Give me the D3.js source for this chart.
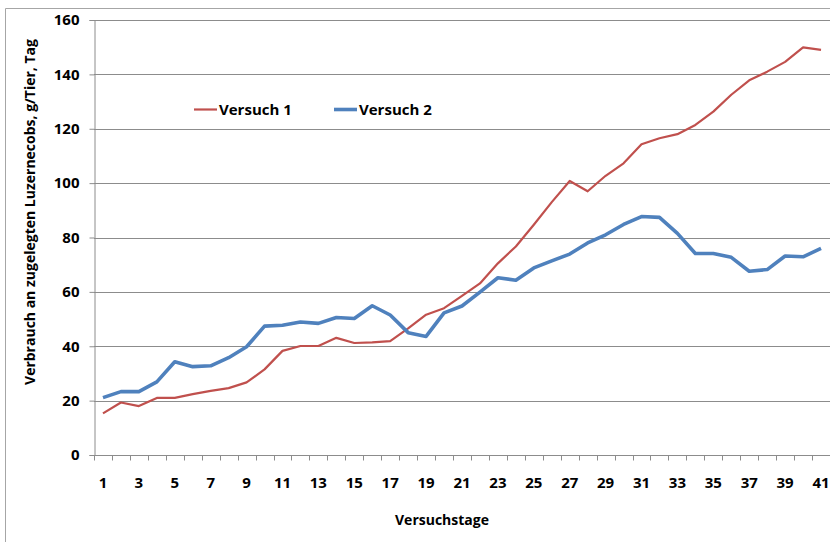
<!DOCTYPE html>
<html>
<head>
<meta charset="utf-8">
<script src="https://cdn.jsdelivr.net/npm/d3@7"></script>
<style>
  body { margin: 0; background: #fff; }
  text { font-family: "Open Sans", sans-serif; font-weight: bold; fill: #000; }
</style>
</head>
<body>
<div id="chart"></div>
<script>
// Versuchstage 1..41
var days = d3.range(1, 42);
var versuch1 = [15.3, 19.3, 18, 21, 21, 22.4, 23.6, 24.6, 26.7, 31.5,
                38.3, 40.1, 40.1, 43.1, 41.2, 41.4, 41.9, 46.6, 51.6, 54,
                58.5, 63.1, 70.5, 76.7, 84.7, 93, 100.8, 97, 102.7, 107.3,
                114.3, 116.5, 118, 121.4, 126.3, 132.5, 137.8, 141, 144.6, 149.9, 149];
var versuch2 = [21.1, 23.3, 23.3, 26.9, 34.3, 32.5, 32.8, 35.8, 39.8, 47.4,
                47.7, 48.9, 48.4, 50.6, 50.2, 54.9, 51.5, 45, 43.6, 52.3,
                54.8, 59.9, 65.2, 64.3, 68.8, 71.4, 73.9, 78, 81, 84.8,
                87.7, 87.4, 81.5, 74.1, 74.1, 72.7, 67.6, 68.2, 73.2, 72.9, 76];
var yTicks = [0, 20, 40, 60, 80, 100, 120, 140, 160];
var seriesNames = ['Versuch 1', 'Versuch 2'];
var seriesColors = ['#C0504D', '#4F81BD'];
var seriesWidths = [2.2, 3.6];

var W = 830, H = 542;
var margin = {top: 20, right: 0, bottom: 87, left: 94};
var width = W - margin.left - margin.right,
    height = H - margin.top - margin.bottom;

var svg = d3.select('#chart').append('svg')
    .attr('width', W)
    .attr('height', H);

// outer frame
svg.append('path')
    .attr('d', 'M5.5,' + H + ' V8.5 H' + W)
    .attr('fill', 'none')
    .attr('stroke', '#a6a6a6')
    .attr('stroke-width', 1);

var g = svg.append('g')
    .attr('transform', 'translate(' + margin.left + ',' + margin.top + ')');

var x = d3.scaleBand().domain(days).range([0, width]);
var y = d3.scaleLinear().domain([0, 160]).range([height, 0]);

// horizontal grid
g.append('g')
    .selectAll('line')
    .data(yTicks.slice(1))
    .join('line')
    .attr('x1', 0).attr('x2', width)
    .attr('y1', function(d) { return Math.round(y(d)) + 0.5; })
    .attr('y2', function(d) { return Math.round(y(d)) + 0.5; })
    .attr('stroke', '#8c8c8c')
    .attr('stroke-width', 1);

// y axis
var yAxis = g.append('g')
    .attr('transform', 'translate(0.5,0)')
    .call(d3.axisLeft(y).tickValues(yTicks).tickSize(5).tickPadding(10));
yAxis.selectAll('line, path').attr('stroke', '#8c8c8c');
yAxis.selectAll('text').style('font-size', '15px');

// x axis: ticks between categories
var xAxisG = g.append('g')
    .attr('transform', 'translate(0,' + (Math.round(height) + 0.5) + ')');
xAxisG.append('line')
    .attr('x1', 0).attr('x2', width)
    .attr('stroke', '#8c8c8c');
xAxisG.selectAll('.tk')
    .data(days)
    .join('line')
    .attr('class', 'tk')
    .attr('x1', function(d) { return Math.round(x(d)) + 0.5; })
    .attr('x2', function(d) { return Math.round(x(d)) + 0.5; })
    .attr('y1', 0).attr('y2', 5)
    .attr('stroke', '#8c8c8c');
xAxisG.selectAll('.lbl')
    .data(days.filter(function(d) { return d % 2 === 1; }))
    .join('text')
    .attr('class', 'lbl')
    .attr('x', function(d) { return x(d) + x.bandwidth() / 2; })
    .attr('y', 32)
    .attr('text-anchor', 'middle')
    .style('font-size', '15px')
    .text(function(d) { return d; });

// lines
var line = d3.line()
    .x(function(d, i) { return x(days[i]) + x.bandwidth() / 2; })
    .y(function(d) { return y(d); });

[versuch1, versuch2].forEach(function(s, i) {
    g.append('path')
        .datum(s)
        .attr('fill', 'none')
        .attr('stroke', seriesColors[i])
        .attr('stroke-width', seriesWidths[i])
        .attr('stroke-linejoin', 'round')
        .attr('d', line);
});

// axis titles
svg.append('text')
    .attr('x', 442)
    .attr('y', 525)
    .attr('text-anchor', 'middle')
    .style('font-size', '14px')
    .text('Versuchstage');

svg.append('text')
    .attr('transform', 'translate(35,212) rotate(-90)')
    .attr('text-anchor', 'middle')
    .style('font-size', '14px')
    .text('Verbrauch an zugelegten Luzernecobs, g/Tier, Tag');

// legend
var legendX = [194, 334];
var legend = svg.append('g');
seriesNames.forEach(function(name, i) {
    legend.append('line')
        .attr('x1', legendX[i]).attr('x2', legendX[i] + 23)
        .attr('y1', 109.5).attr('y2', 109.5)
        .attr('stroke', seriesColors[i])
        .attr('stroke-width', seriesWidths[i]);
    legend.append('text')
        .attr('x', legendX[i] + 25)
        .attr('y', 114.5)
        .style('font-size', '15px')
        .text(name);
});
</script>
</body>
</html>
